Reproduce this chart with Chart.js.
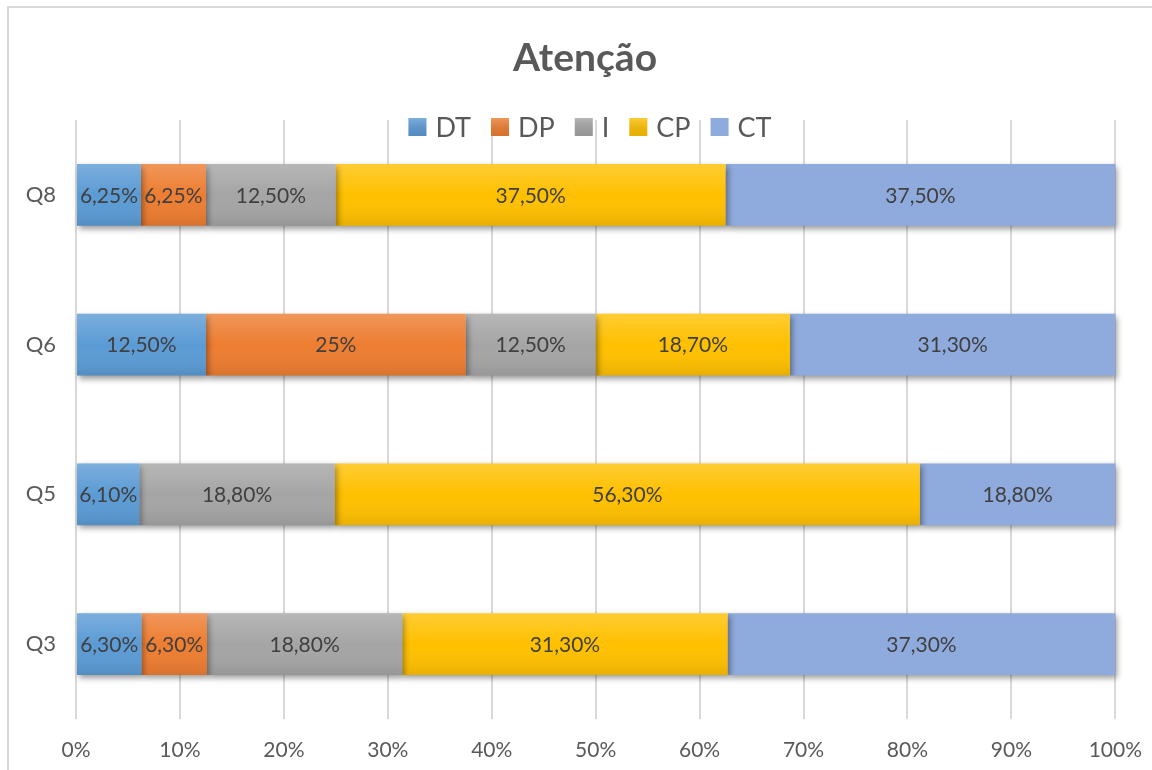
<!DOCTYPE html>
<html>
<head>
<meta charset="utf-8">
<title>Atenção</title>
<script src="https://cdn.jsdelivr.net/npm/chart.js@4/dist/chart.umd.min.js"></script>
<style>
  html, body { margin: 0; padding: 0; background: #fff; overflow: hidden; }
  .frame { position: absolute; left: 7px; top: 6px; width: 1200px; height: 800px; border: 2px solid #d9d9d9; }
  #chart { position: absolute; left: 0; top: 0; }
</style>
</head>
<body>
<div class="frame"></div>
<canvas id="chart" width="1152" height="770"></canvas>
<script>
const categories = ['Q8', 'Q6', 'Q5', 'Q3']
const seriesNames = ['DT', 'DP', 'I', 'CP', 'CT']
const dtValues = [6.25, 12.5, 6.1, 6.3]
const dpValues = [6.25, 25, 0, 6.3]
const iValues = [12.5, 12.5, 18.8, 18.8]
const cpValues = [37.5, 18.7, 56.3, 31.3]
const ctValues = [37.5, 31.3, 18.8, 37.3]
const xTickValues = [0, 10, 20, 30, 40, 50, 60, 70, 80, 90, 100]

const seriesColors = ['#5b9bd5', '#ed7d31', '#a5a5a5', '#ffc000', '#8faadc']
const shaded = [true, true, true, true, false]
const FONT = 'Lato, "Open Sans", sans-serif'
const TEXT = '#595959'

function pct(v) {
    let s = Number.isInteger(v) ? String(v) : v.toFixed(2).replace('.', ',')
    return s + '%'
}

// shadow under the bars, soft gradient on top of them, value labels, title and legend
const excelLook = {
    id: 'excelLook',
    beforeDatasetsDraw(chart) {
        let c = chart.ctx
        c.save()
        c.shadowColor = 'rgba(0,0,0,0.4)'
        c.shadowBlur = 6
        c.shadowOffsetX = 2
        c.shadowOffsetY = 3
    },
    afterDatasetsDraw(chart) {
        let c = chart.ctx
        c.restore()
        chart.data.datasets.forEach((ds, i) => {
            let meta = chart.getDatasetMeta(i)
            meta.data.forEach((el, j) => {
                let p = el.getProps(['x', 'y', 'base', 'height'], true)
                let left = Math.min(p.x, p.base), w = Math.abs(p.x - p.base)
                let top = p.y - p.height / 2
                if (w < 1) return
                if (shaded[i]) {
                    let g = c.createLinearGradient(0, top, 0, top + p.height)
                    g.addColorStop(0, 'rgba(255,255,255,0.2)')
                    g.addColorStop(0.5, 'rgba(255,255,255,0)')
                    g.addColorStop(1, 'rgba(0,0,0,0.09)')
                    c.fillStyle = g
                    c.fillRect(left, top, w, p.height)
                }
                c.fillStyle = '#404040'
                c.font = '21px ' + FONT
                c.textAlign = 'center'
                c.textBaseline = 'middle'
                c.fillText(pct(ds.data[j]), left + w / 2, p.y + 1)
            })
        })
    },
    afterDraw(chart) {
        let c = chart.ctx
        c.save()
        c.fillStyle = TEXT
        c.textAlign = 'center'
        c.textBaseline = 'middle'
        c.font = 'bold 39px ' + FONT
        c.fillText('Atenção', 585, 58)

        // legend
        c.font = '27px ' + FONT
        c.textAlign = 'left'
        let box = 18, gap = 9, spacing = 20
        let widths = chart.data.datasets.map(d => box + gap + c.measureText(d.label).width)
        let total = widths.reduce((a, b) => a + b, 0) + spacing * (widths.length - 1)
        let x = 590 - total / 2, y = 127
        chart.data.datasets.forEach((d, i) => {
            c.fillStyle = seriesColors[i]
            c.fillRect(x, y - box / 2, box, box)
            if (shaded[i]) {
                let g = c.createLinearGradient(0, y - box / 2, 0, y + box / 2)
                g.addColorStop(0, 'rgba(255,255,255,0.2)')
                g.addColorStop(1, 'rgba(0,0,0,0.09)')
                c.fillStyle = g
                c.fillRect(x, y - box / 2, box, box)
            }
            c.fillStyle = TEXT
            c.fillText(d.label, x + box + gap, y + 1)
            x += widths[i] + spacing
        })
        c.restore()
    }
}

const valueLists = [dtValues, dpValues, iValues, cpValues, ctValues]

new Chart(document.getElementById('chart'), {
    type: 'bar',
    data: {
        labels: categories,
        datasets: seriesNames.map((name, i) => ({
            label: name,
            data: valueLists[i],
            backgroundColor: seriesColors[i],
            borderWidth: 0,
            clip: false,
            categoryPercentage: 1,
            barPercentage: 62 / 150
        }))
    },
    options: {
        indexAxis: 'y',
        responsive: false,
        animation: false,
        devicePixelRatio: 1,
        layout: { padding: { top: 120, right: 25, bottom: 0, left: 0 } },
        plugins: {
            legend: { display: false },
            title: { display: false },
            tooltip: { enabled: false }
        },
        scales: {
            x: {
                stacked: true,
                min: 0,
                max: 100,
                afterBuildTicks: s => { s.ticks = xTickValues.map(v => ({ value: v })) },
                afterFit: s => { s.height = 51 },
                ticks: {
                    padding: 10,
                    minRotation: 0,
                    maxRotation: 0,
                    autoSkip: false,
                    color: TEXT,
                    font: { family: FONT, size: 21, lineHeight: 2 },
                    callback: v => v + '%'
                },
                grid: { color: '#d9d9d9', lineWidth: 2, drawTicks: false },
                border: { display: false }
            },
            y: {
                stacked: true,
                afterFit: s => { s.width = 76 },
                ticks: {
                    padding: 12,
                    color: TEXT,
                    font: { family: FONT, size: 22 }
                },
                grid: { display: false },
                border: { display: false }
            }
        }
    },
    plugins: [excelLook]
})
</script>
</body>
</html>
